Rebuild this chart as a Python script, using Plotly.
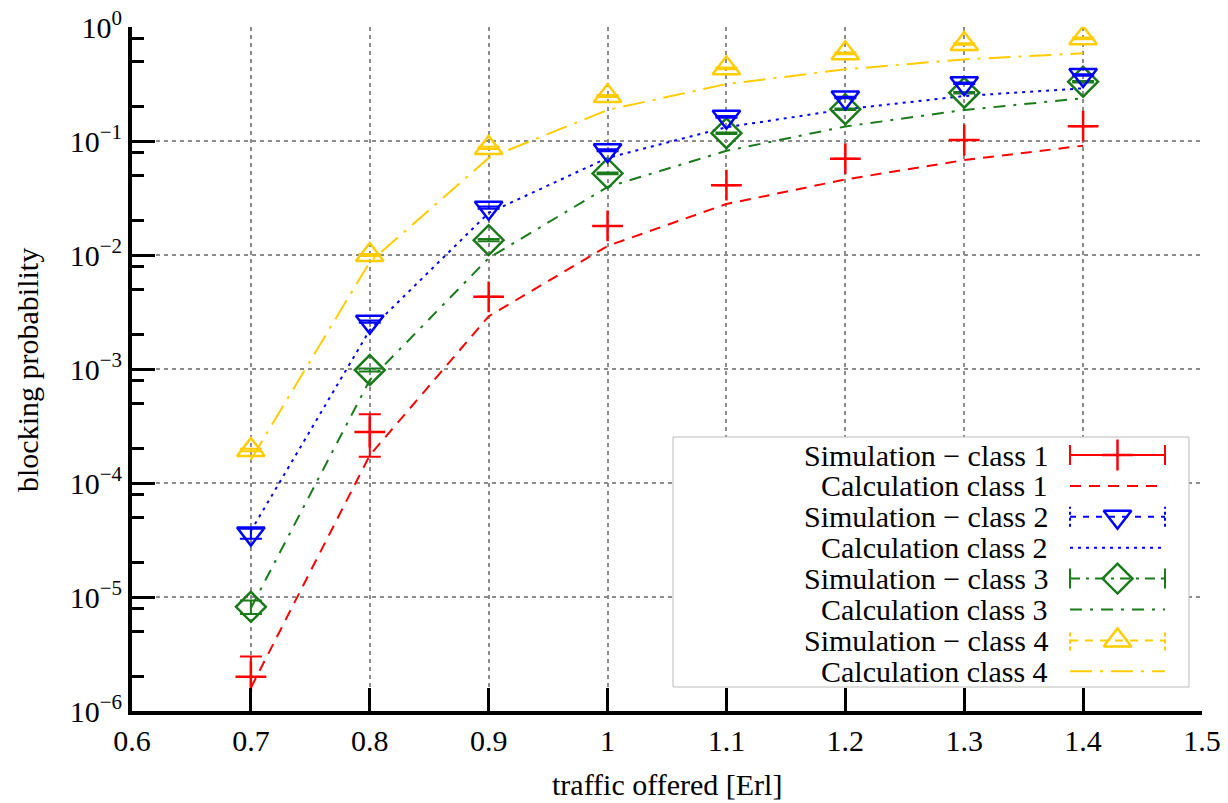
import plotly.graph_objects as go

# ---------------- data ----------------
traffic = [0.7, 0.8, 0.9, 1.0, 1.1, 1.2, 1.3, 1.4]

sim1 = [2.0e-6, 2.8e-4, 4.3e-3, 1.8e-2, 0.041, 0.070, 0.102, 0.135]
sim1_err_plus = [1.0e-6, 1.2e-4, 0, 0, 0, 0, 0, 0]
sim1_err_minus = [1.2e-6, 1.1e-4, 0, 0, 0, 0, 0, 0]
calc1 = [1.6e-6, 1.75e-4, 2.9e-3, 1.2e-2, 0.028, 0.046, 0.068, 0.091]

sim2 = [3.6e-5, 2.6e-3, 0.026, 0.083, 0.163, 0.241, 0.321, 0.379]
sim2_err = [3.6e-6, 6e-5, 6e-4, 0.0015, 0.003, 0.004, 0.005, 0.006]
calc2 = [3.8e-5, 2.2e-3, 0.0234, 0.071, 0.132, 0.19, 0.248, 0.29]

sim3 = [8.2e-6, 9.8e-4, 0.0135, 0.052, 0.117, 0.19, 0.265, 0.331]
sim3_err = [1.1e-6, 3e-5, 3e-4, 0.001, 0.002, 0.003, 0.004, 0.005]
calc3 = [8.0e-6, 8.0e-4, 9.4e-3, 0.0395, 0.082, 0.134, 0.187, 0.237]

sim4 = [1.95e-4, 0.0100, 0.087, 0.248, 0.434, 0.588, 0.71, 0.795]
sim4_err = [5e-6, 2e-4, 0.002, 0.005, 0.008, 0.01, 0.012, 0.013]
calc4 = [1.6e-4, 8.7e-3, 0.071, 0.187, 0.316, 0.425, 0.52, 0.588]

x_ticks = [0.6, 0.7, 0.8, 0.9, 1.0, 1.1, 1.2, 1.3, 1.4, 1.5]
x_ticktext = ["0.6", "0.7", "0.8", "0.9", "1", "1.1", "1.2", "1.3", "1.4", "1.5"]
y_exps = [0, -1, -2, -3, -4, -5, -6]

labels = ["Simulation \u2212 class 1", "Calculation class 1",
          "Simulation \u2212 class 2", "Calculation class 2",
          "Simulation \u2212 class 3", "Calculation class 3",
          "Simulation \u2212 class 4", "Calculation class 4"]

# ---------------- styles ----------------
RED = "#FF0000"
BLUE = "#0000FF"
GREEN = "#1A7A1A"
YELLOW = "#FFCC00"
FONT = "Liberation Serif"
FS = 30

fig = go.Figure()

def sim_trace(y, ep, em, color, symbol, size):
    return go.Scatter(
        x=traffic, y=y, mode="markers",
        marker=dict(symbol=symbol, size=size, color=color,
                    line=dict(color=color, width=2.5)),
        error_y=dict(type="data", array=ep, arrayminus=em, color=color,
                     thickness=2, width=11, visible=True),
        showlegend=False, cliponaxis=True)

def calc_trace(y, color, dash):
    return go.Scatter(x=traffic, y=y, mode="lines",
                      line=dict(color=color, width=2, dash=dash),
                      showlegend=False)

DASH1 = "11px,8px"
DOT2 = "3px,5px"
DASHDOT3 = "12px,8px,3px,8px"
DASHDOT4 = "22px,8px,3px,8px"

fig.add_trace(calc_trace(calc4, YELLOW, DASHDOT4))
fig.add_trace(calc_trace(calc3, GREEN, DASHDOT3))
fig.add_trace(calc_trace(calc2, BLUE, DOT2))
fig.add_trace(calc_trace(calc1, RED, DASH1))
fig.add_trace(sim_trace(sim4, sim4_err, sim4_err, YELLOW, "triangle-up-open", 24))
fig.add_trace(sim_trace(sim3, sim3_err, sim3_err, GREEN, "diamond-open", 23))
fig.add_trace(sim_trace(sim2, sim2_err, sim2_err, BLUE, "triangle-down-open", 24))
fig.add_trace(sim_trace(sim1, sim1_err_plus, sim1_err_minus, RED, "cross-thin-open", 22))

# ---------------- custom legend (text left, sample right) ----------------
PW, PH = 1070, 684
def px(xi):  # image x -> overlay x (pixels inside plot area)
    return xi - 132
def py(yi):  # image y -> overlay y (pixels from plot bottom)
    return 711 - yi

row_y = [py(455 + 30.9 * i) for i in range(8)]
sx0, sx1 = px(1070), px(1165)
sxc = (sx0 + sx1) / 2
cap = 10

bx0, bx1, by0, by1 = px(673), px(1189), py(687), py(437)
fig.add_trace(go.Scatter(x=[bx0, bx1, bx1, bx0, bx0], y=[by0, by0, by1, by1, by0],
                         mode="lines", fill="toself", fillcolor="white",
                         line=dict(color="#BBBBBB", width=1),
                         xaxis="x2", yaxis="y2", showlegend=False, hoverinfo="skip"))

legend_specs = [
    ("sim", RED, "solid", "cross-thin-open", 22, "solid"),
    ("calc", RED, DASH1, None, 0, None),
    ("sim", BLUE, "6px,7px", "triangle-down-open", 24, "3px,3px"),
    ("calc", BLUE, DOT2, None, 0, None),
    ("sim", GREEN, "10px,6px,3px,6px", "diamond-open", 23, "solid"),
    ("calc", GREEN, DASHDOT3, None, 0, None),
    ("sim", YELLOW, "8px,7px", "triangle-up-open", 24, "4px,3px"),
    ("calc", YELLOW, DASHDOT4, None, 0, None),
]

for i, (kind, color, dash, sym, size, capdash) in enumerate(legend_specs):
    yy = row_y[i]
    fig.add_trace(go.Scatter(x=[sx0, sx1], y=[yy, yy], mode="lines",
                             xaxis="x2", yaxis="y2", showlegend=False,
                             line=dict(color=color, width=2, dash=dash),
                             hoverinfo="skip"))
    if kind == "sim":
        fig.add_trace(go.Scatter(x=[sx0, sx0, None, sx1, sx1],
                                 y=[yy - cap, yy + cap, None, yy - cap, yy + cap],
                                 mode="lines", xaxis="x2", yaxis="y2",
                                 showlegend=False, hoverinfo="skip",
                                 line=dict(color=color, width=2, dash=capdash)))
        fig.add_trace(go.Scatter(x=[sxc], y=[yy], mode="markers",
                                 xaxis="x2", yaxis="y2", showlegend=False,
                                 hoverinfo="skip",
                                 marker=dict(symbol=sym, size=size, color=color,
                                             line=dict(color=color, width=2.5))))
    fig.add_annotation(x=px(1050), y=yy, xref="x2", yref="y2",
                       text=labels[i],
                       showarrow=False, xanchor="right", yanchor="middle",
                       font=dict(family=FONT, size=FS, color="black"))

# axis titles as annotations (paper coords) for exact placement
fig.add_annotation(x=(667 - 132) / PW, y=-(784 - 711) / PH, xref="paper", yref="paper",
                   text="traffic offered [Erl]", showarrow=False,
                   xanchor="center", yanchor="middle",
                   font=dict(family=FONT, size=FS, color="black"))
fig.add_annotation(x=-(132 - 27) / PW, y=(711 - 370) / PH, xref="paper", yref="paper",
                   text="blocking probability", showarrow=False, textangle=-90,
                   xanchor="center", yanchor="middle",
                   font=dict(family=FONT, size=FS, color="black"))

# ---------------- layout ----------------
minor_y = []
for e in range(-6, 0):
    for m in (2, 5, 8):
        minor_y.append(m * 10 ** e)

fig.update_layout(
    width=1228, height=803,
    margin=dict(l=132, r=26, t=27, b=92, pad=0, autoexpand=False),
    paper_bgcolor="white", plot_bgcolor="white",
    font=dict(family=FONT, size=FS, color="black"),
    showlegend=False,
    xaxis=dict(
        range=[0.6, 1.5], tickmode="array", tickvals=x_ticks, ticktext=x_ticktext,
        ticks="inside", ticklen=23, tickwidth=3, tickcolor="black",
        showline=True, linewidth=4, linecolor="black", mirror=False,
        showgrid=True, gridcolor="#8C8C8C", gridwidth=1.5, griddash="4px,4px",
        zeroline=False, automargin=False,
        tickfont=dict(family=FONT, size=FS),
    ),
    yaxis=dict(
        type="log", range=[-6, 0], tickmode="array",
        tickvals=[10 ** e for e in y_exps],
        ticktext=["10<sup>%s</sup>" % (str(e).replace("-", "\u2212")) for e in y_exps],
        ticks="inside", ticklen=23, tickwidth=3, tickcolor="black",
        showline=True, linewidth=4, linecolor="black", mirror=False,
        showgrid=True, gridcolor="#8C8C8C", gridwidth=1.5, griddash="4px,4px",
        zeroline=False, automargin=False,
        minor=dict(tickmode="array", tickvals=minor_y, ticks="inside",
                   ticklen=12, tickwidth=3, tickcolor="black", showgrid=False),
        tickfont=dict(family=FONT, size=FS),
    ),
    xaxis2=dict(overlaying="x", range=[0, PW], visible=False, fixedrange=True,
                automargin=False),
    yaxis2=dict(overlaying="y", range=[0, PH], visible=False, fixedrange=True,
                automargin=False),
)

fig.write_html("out.html")
